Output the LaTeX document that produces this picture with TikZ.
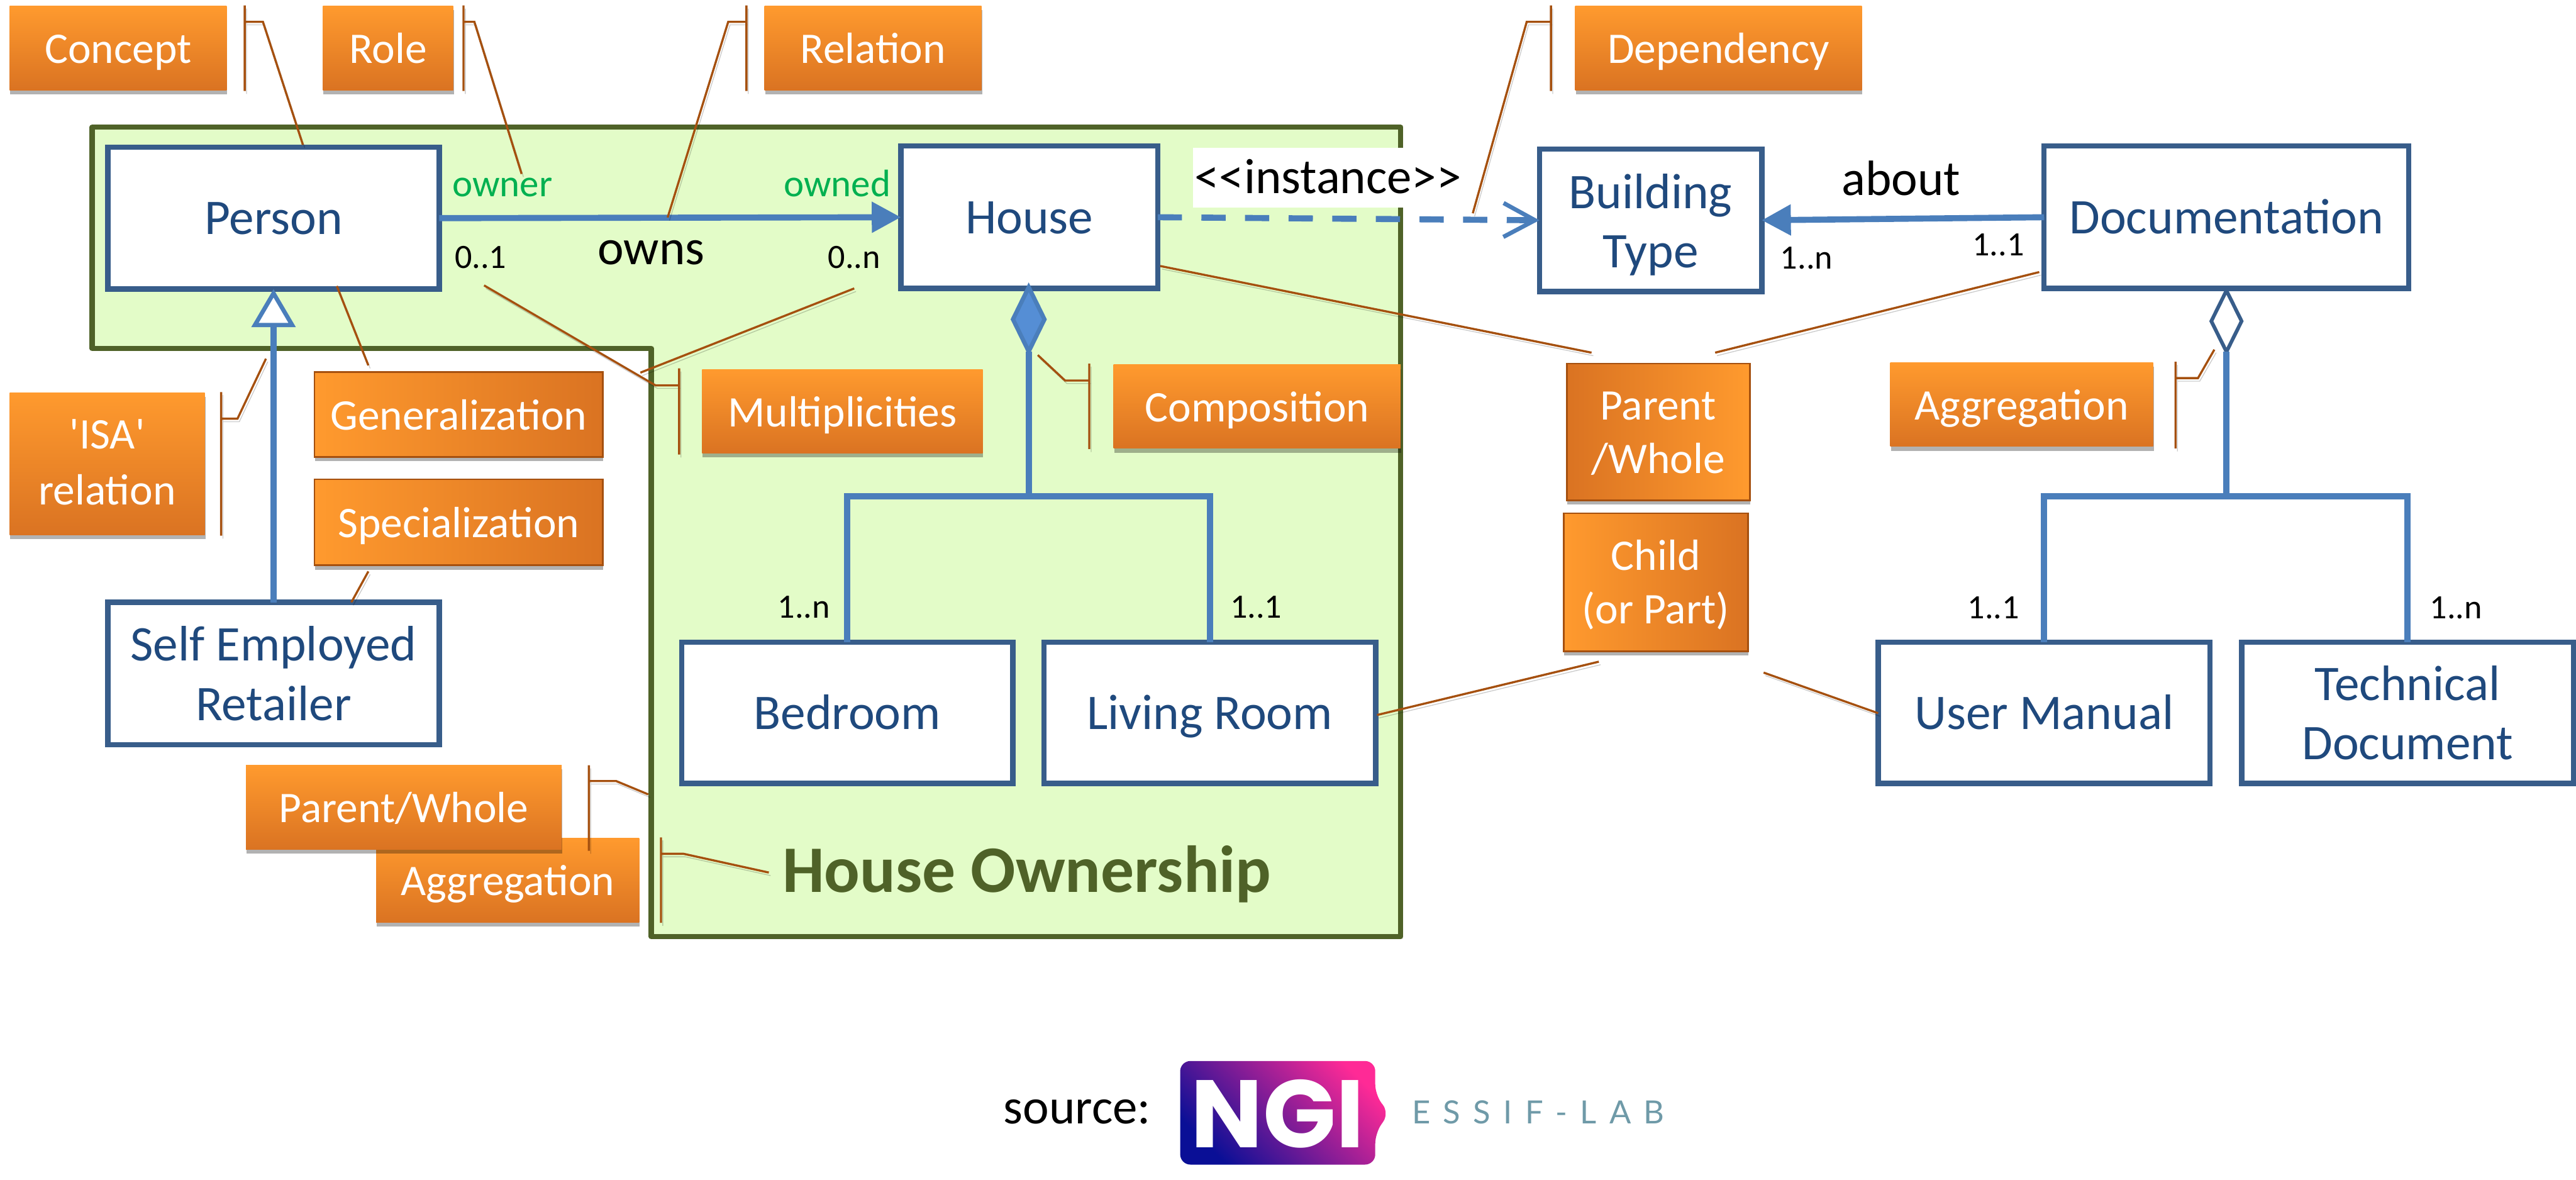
\documentclass[tikz,border=0pt]{standalone}
\usepackage{fontspec}
\usepackage{xcolor}
\setmainfont{Carlito}
\newfontfamily\logofont{Poppins}
\newfontfamily\labfont[LetterSpace=40]{Lato}
\usepackage{tikz}
\usetikzlibrary{arrows.meta,shapes,shadows}
\definecolor{regionfill}{HTML}{E3FCC8}
\definecolor{regionline}{HTML}{4F6228}
\definecolor{boxline}{HTML}{385D8A}
\definecolor{boxtext}{HTML}{1F497D}
\definecolor{linkblue}{HTML}{4A7EBB}
\definecolor{diamondblue}{HTML}{558ED5}
\definecolor{orangelight}{HTML}{FF9A2E}
\definecolor{orangedark}{HTML}{DA7322}
\definecolor{orangeline}{HTML}{A5500F}
\definecolor{rolegreen}{HTML}{00B050}
\definecolor{labteal}{HTML}{6F9AA8}
\definecolor{logoblue}{HTML}{0A0F96}
\definecolor{logopink}{HTML}{FF2A96}
\tikzset{
classbox/.style={draw=boxline,fill=white,line width=0.088cm,text=boxtext,align=center,inner sep=0pt,outer sep=0pt,font=\fontsize{23.4}{28}\selectfont},
oneclass/.style={classbox,text height=0.56cm,text depth=0.02cm},
notebox/.style={inner sep=0pt,outer sep=0pt,text=white,align=center,font=\fontsize{20.5}{25}\selectfont,drop shadow={shadow xshift=0.01cm,shadow yshift=-0.07cm,opacity=0.3,fill=black}},
notedown/.style={notebox,top color=orangelight,bottom color=orangedark},
noteright/.style={notebox,left color=orangelight,right color=orangedark,draw=orangeline,line width=0.03cm},
noteleft/.style={notebox,left color=orangedark,right color=orangelight,draw=orangeline,line width=0.03cm},
oneline/.style={text height=0.55cm,text depth=0.05cm},
twoline/.style={text height=1.36cm,text depth=0cm},
callout/.style={draw=orangeline,line width=0.035cm,preaction={draw=black,opacity=0.2,transform canvas={xshift=0.03cm,yshift=-0.05cm}}},
link/.style={draw=linkblue,line width=0.1cm},
multlabel/.style={anchor=base west,inner sep=0pt,font=\fontsize{16}{18}\selectfont},
rolelabel/.style={anchor=base west,inner sep=0pt,text=rolegreen,font=\fontsize{18}{22}\selectfont},
wordlabel/.style={anchor=base,inner sep=0pt,font=\fontsize{23.3}{28}\selectfont},
solidtip/.style={-{Stealth[inset=0pt,length=0.48cm,width=0.49cm]}}
}
\begin{document}
\begin{tikzpicture}
\useasboundingbox(0,0)rectangle(42.52,-19.47);
% region
\draw[line width=0.085cm,draw=regionline,fill=regionfill,line join=round](1.52,-2.10)--(23.12,-2.10)--(23.12,-15.46)--(10.75,-15.46)--(10.75,-5.75)--(1.52,-5.75)--cycle;
% classes
\node[oneclass,minimum width=5.47cm,minimum height=2.34cm](person)at(4.515,-3.60){Person};
\node[oneclass,minimum width=4.24cm,minimum height=2.35cm](house)at(16.99,-3.585){House};
\node[classbox,minimum width=5.47cm,minimum height=2.35cm](retailer)at(4.515,-11.115){Self Employed\\Retailer};
\node[classbox,text height=1.57cm,text depth=0cm,minimum width=3.67cm,minimum height=2.35cm](buildingtype)at(27.245,-3.635){Building\\Type};
\node[oneclass,minimum width=6.02cm,minimum height=2.35cm](documentation)at(36.75,-3.585){Documentation};
\node[oneclass,minimum width=5.47cm,minimum height=2.33cm](bedroom)at(13.985,-11.765){Bedroom};
\node[oneclass,minimum width=5.48cm,minimum height=2.33cm](livingroom)at(19.97,-11.765){Living Room};
\node[oneclass,minimum width=5.48cm,minimum height=2.33cm](usermanual)at(33.74,-11.765){User Manual};
\node[classbox,minimum width=5.48cm,minimum height=2.33cm](technicaldoc)at(39.74,-11.765){Technical\\Document};
% links
\draw[link,solidtip](person.east)--(house.west);
\draw[link,solidtip](documentation.west)--(buildingtype.east);
\draw[link,dash pattern=on 0.40cm off 0.32cm,-{Straight Barb[length=0.52cm,width=0.56cm,line width=0.07cm]}](house.east)--(buildingtype.west);
\draw[link,-{Triangle[open,fill=white,length=0.63cm,width=0.72cm,line width=0.07cm]}](retailer.north)--(person.south);
% composition and aggregation trees
\node[diamond,draw=linkblue,fill=diamondblue,line width=0.07cm,inner sep=0pt,outer sep=0pt,minimum width=0.52cm,minimum height=1.06cm](composition)at(16.98,-5.27){};
\node[diamond,draw=boxline,fill=white,line width=0.06cm,inner sep=0pt,outer sep=0pt,minimum width=0.50cm,minimum height=1.01cm](aggregation)at(36.75,-5.30){};
\coordinate(housefork)at(16.98,-8.19);
\coordinate(docfork)at(36.75,-8.19);
\draw[link](composition.south)--(housefork);
\draw[link](bedroom.north)--(bedroom.north|-housefork)--(livingroom.north|-housefork)--(livingroom.north);
\draw[link](aggregation.south)--(docfork);
\draw[link](usermanual.north)--(usermanual.north|-docfork)--(technicaldoc.north|-docfork)--(technicaldoc.north);
% texts on links
\node[wordlabel](owns)at(10.75,-4.36){owns};
\node[wordlabel](about)at(31.38,-3.22){about};
\node[wordlabel,fill=white,inner xsep=0.03cm,text height=0.75cm,text depth=0.24cm](instance)at(21.92,-3.19){<\kern0pt<instance>\kern0pt>};
\node[rolelabel](owner)at(7.46,-3.24){owner};
\node[rolelabel](owned)at(12.93,-3.24){owned};
\node[multlabel](mzeroone)at(7.50,-4.43){0..1};
\node[multlabel](mzeron)at(13.66,-4.43){0..n};
\node[multlabel](monen)at(29.38,-4.44){1..n};
\node[multlabel](mdocone)at(32.55,-4.22){1..1};
\node[multlabel](mbedroom)at(12.83,-10.20){1..n};
\node[multlabel](mliving)at(20.30,-10.20){1..1};
\node[multlabel](mmanual)at(32.47,-10.21){1..1};
\node[multlabel](mtechnical)at(40.10,-10.21){1..n};
\node[anchor=base west,inner sep=0pt,text=regionline,font=\fontsize{31.2}{40}\selectfont\bfseries](ownership)at(12.91,-14.73){House Ownership};
% notes
\node[notedown,oneline,minimum width=3.58cm,minimum height=1.39cm](noteconcept)at(1.95,-0.795){Concept};
\node[notedown,oneline,minimum width=2.15cm,minimum height=1.39cm](noterole)at(6.405,-0.795){Role};
\node[notedown,oneline,minimum width=3.58cm,minimum height=1.39cm](noterelation)at(14.41,-0.795){Relation};
\node[notedown,oneline,minimum width=4.73cm,minimum height=1.39cm](notedependency)at(28.365,-0.795){Dependency};
\node[notedown,twoline,minimum width=3.22cm,minimum height=2.35cm,font=\fontsize{20.5}{26.5}\selectfont](noteisa)at(1.77,-7.655){\textquotesingle ISA\textquotesingle\\relation};
\node[noteright,oneline,minimum width=4.76cm,minimum height=1.40cm](notegeneral)at(7.57,-6.84){Generalization};
\node[noteright,oneline,minimum width=4.76cm,minimum height=1.42cm](notespecial)at(7.57,-8.62){Specialization};
\node[notedown,oneline,minimum width=4.63cm,minimum height=1.38cm](notemulti)at(13.905,-6.79){Multiplicities};
\node[notedown,oneline,minimum width=4.74cm,minimum height=1.38cm](notecomposition)at(20.75,-6.71){Composition};
\node[noteleft,twoline,minimum width=3.02cm,minimum height=2.26cm](notewhole)at(27.37,-7.13){Parent\\/Whole};
\node[noteright,twoline,minimum width=3.04cm,minimum height=2.28cm](notechild)at(27.33,-9.61){Child\\(or Part)};
\node[notedown,oneline,minimum width=4.34cm,minimum height=1.39cm](noteaggright)at(33.37,-6.675){Aggregation};
\node[notedown,oneline,minimum width=4.34cm,minimum height=1.39cm](noteaggleft)at(8.38,-14.525){Aggregation};
\node[notedown,oneline,minimum width=5.21cm,minimum height=1.39cm](noteparent)at(6.665,-13.325){Parent/Whole};
% callouts
\coordinate(ca)at(4.04,-0.09);\coordinate(cb)at(4.04,-1.50);\coordinate(cc)at(4.34,-0.36);\coordinate(cd)at(5.00,-2.39);
\draw[callout](ca)--(cb)(ca|-cc)--(cc)--(cd);
\coordinate(ra)at(7.65,-0.09);\coordinate(rb)at(7.65,-1.50);\coordinate(rc)at(7.83,-0.36);\coordinate(rd)at(8.61,-2.87);
\draw[callout](ra)--(rb)(ra|-rc)--(rc)--(rd);
\coordinate(la)at(12.32,-0.09);\coordinate(lb)at(12.32,-1.50);\coordinate(lc)at(12.02,-0.36);\coordinate(ld)at(11.02,-3.59);
\draw[callout](la)--(lb)(la|-lc)--(lc)--(ld);
\coordinate(da)at(25.60,-0.09);\coordinate(db)at(25.60,-1.50);\coordinate(dc)at(25.20,-0.36);\coordinate(dd)at(24.31,-3.52);
\draw[callout](da)--(db)(da|-dc)--(dc)--(dd);
\coordinate(ia)at(3.65,-6.47);\coordinate(ib)at(3.65,-8.84);\coordinate(ic)at(3.92,-6.91);\coordinate(id)at(4.39,-5.92);
\draw[callout](ia)--(ib)(ia|-ic)--(ic)--(id);
\coordinate(ma)at(11.21,-6.08);\coordinate(mb)at(11.21,-7.50);\coordinate(mc)at(10.82,-6.36);\coordinate(md)at(7.99,-4.71);
\draw[callout](ma)--(mb)(ma|-mc)--(mc)--(md);
\coordinate(ms)at(10.57,-6.15);\coordinate(mt)at(14.10,-4.76);
\draw[callout](ms)--(mt);
\coordinate(pa)at(17.98,-6.00);\coordinate(pb)at(17.98,-7.41);\coordinate(pc)at(17.58,-6.28);\coordinate(pd)at(17.13,-5.86);
\draw[callout](pa)--(pb)(pa|-pc)--(pc)--(pd);
\coordinate(ga)at(35.91,-5.97);\coordinate(gb)at(35.91,-7.40);\coordinate(gc)at(36.28,-6.24);\coordinate(gd)at(36.55,-5.77);
\draw[callout](ga)--(gb)(ga|-gc)--(gc)--(gd);
\coordinate(wa)at(9.72,-12.63);\coordinate(wb)at(9.72,-14.04);\coordinate(wc)at(10.17,-12.89);\coordinate(wd)at(10.70,-13.11);
\draw[callout](wa)--(wb)(wa|-wc)--(wc)--(wd);
\coordinate(na)at(10.91,-13.82);\coordinate(nb)at(10.91,-15.23);\coordinate(nc)at(11.28,-14.09);\coordinate(nd)at(12.69,-14.40);
\draw[callout](na)--(nb)(na|-nc)--(nc)--(nd);
\coordinate(ge)at(5.56,-4.72);\coordinate(gf)at(6.08,-6.03);
\draw[callout](ge)--(gf);
\coordinate(se)at(6.08,-9.43);\coordinate(sf)at(5.80,-9.94);
\draw[callout](se)--(sf);
\coordinate(ha)at(19.15,-4.39);\coordinate(hb)at(26.27,-5.82);
\draw[callout](ha)--(hb);
\coordinate(dh)at(28.31,-5.82);\coordinate(di)at(33.66,-4.49);
\draw[callout](dh)--(di);
\coordinate(ka)at(26.39,-10.92);\coordinate(kb)at(22.73,-11.80);
\draw[callout](ka)--(kb);
\coordinate(ua)at(29.11,-11.10);\coordinate(ub)at(31.00,-11.77);
\draw[callout](ua)--(ub);
% source
\node[wordlabel,anchor=base west](source)at(16.56,-18.54){source:};
\shade[bottom color=logoblue,top color=logopink,shading angle=-45,rounded corners=0.17cm](19.48,-17.51)--(22.70,-17.51)--(22.70,-18.07)--(22.93,-18.37)--(22.70,-18.70)--(22.70,-19.22)--(19.48,-19.22)--cycle;
\node[text=white,inner sep=0pt,font=\fontsize{45}{50}\selectfont\logofont\bfseries](ngi)at(21.09,-18.38){NGI};
\node[anchor=base west,inner sep=0pt,text=labteal,font=\fontsize{15}{17}\selectfont\labfont](esif)at(23.30,-18.54){ESSIF-LAB};
\end{tikzpicture}
\end{document}
